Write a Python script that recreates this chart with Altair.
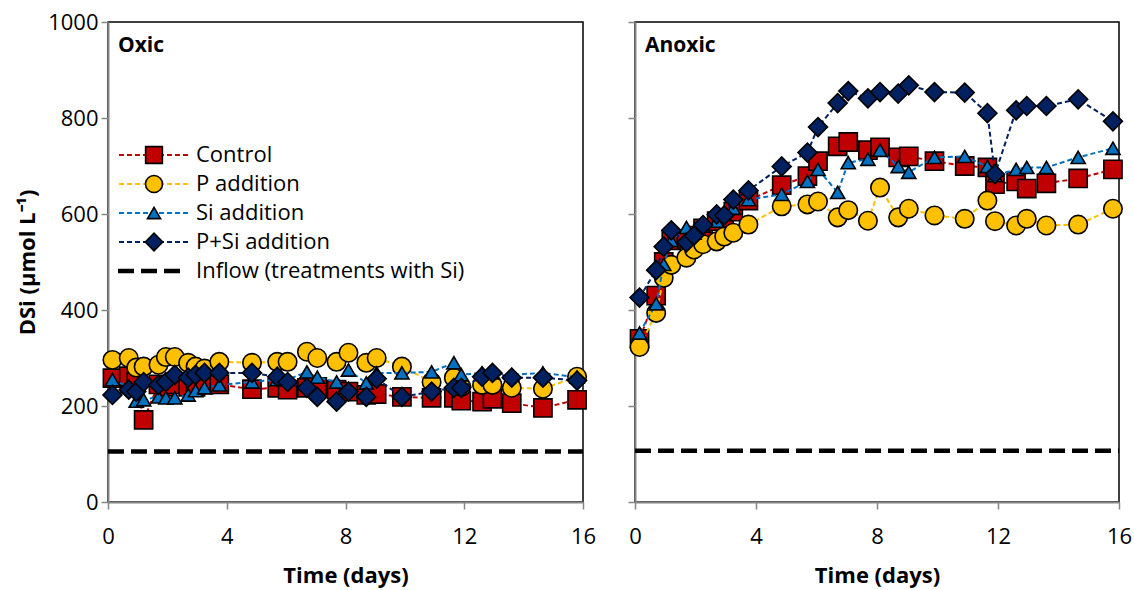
import altair as alt
import pandas as pd

# ---------------- data ----------------
days = [0.15, 0.7, 0.95, 1.2, 1.7, 1.95, 2.25, 2.7, 2.95, 3.25, 3.75, 4.85, 5.7, 6.05,
        6.7, 7.05, 7.7, 8.1, 8.7, 9.05, 9.9, 10.9, 11.65, 11.9, 12.6, 12.95, 13.6, 14.65, 15.8]

series_names = ["Control", "P addition", "Si addition", "P+Si addition"]
inflow_label = "Inflow (treatments with Si)"
panel_names = ["Oxic", "Anoxic"]

oxic_control = [258, 262, 250, 171, 245, 240, 245, 240, 240, 245, 245, 235, 238, 234,
                238, 240, 234, 230, 223, 225, 219, 217, 217, 211, 209, 215, 206, 196, 213]
oxic_p = [296, 300, 280, 282, 286, 302, 302, 290, 282, 278, 292, 290, 292, 292,
          313, 300, 292, 311, 290, 300, 282, 250, 259, 240, 244, 244, 238, 236, 261]
oxic_si = [255, 240, 210, 213, 219, 217, 217, 223, 232, 238, 244, 250, 255, 255,
           271, 260, 250, 275, 248, 269, 269, 271, 290, 265, 269, 269, 265, 269, 260]
oxic_psi = [223, 234, 230, 250, 244, 250, 265, 259, 265, 269, 269, 269, 261, 250,
            238, 219, 209, 230, 219, 257, 219, 230, 238, 238, 261, 269, 259, 259, 253]

anoxic_control = [340, 430, 500, 545, 548, 555, 570, 585, 592, 605, 628, 660, 679, 710,
                  741, 750, 733, 739, 718, 720, 710, 700, 697, 662, 668, 653, 664, 674, 693]
anoxic_p = [323, 394, 467, 494, 509, 526, 537, 543, 553, 561, 578, 616, 620, 626,
            593, 608, 586, 655, 593, 611, 597, 590, 628, 585, 576, 590, 576, 578, 611]
anoxic_si = [352, 413, 495, 545, 572, 560, 575, 585, 600, 612, 630, 641, 668, 693,
             645, 707, 714, 733, 699, 687, 718, 720, 699, 680, 693, 697, 697, 718, 737]
anoxic_psi = [426, 483, 532, 566, 541, 555, 577, 599, 597, 630, 649, 699, 728, 781,
              831, 856, 841, 854, 851, 868, 854, 853, 810, 683, 816, 825, 825, 839, 793]

inflow_days = [0, 16]
inflow_oxic = [105, 105]
inflow_anoxic = [107, 107]

# ---------------- styles ----------------
FONT = "Open Sans"
colors = {"Control": "#C00000", "P addition": "#FFC000",
          "Si addition": "#0070C0", "P+Si addition": "#002060"}
shapes = {"Control": "square", "P addition": "circle",
          "Si addition": "triangle-up", "P+Si addition": "diamond"}
sizes = {"Control": 330, "P addition": 340, "Si addition": 200, "P+Si addition": 360}
AXIS_GRAY = "#868686"


def build_df(values_by_series):
    rows = []
    for name, vals in zip(series_names, values_by_series):
        for d, v in zip(days, vals):
            rows.append({"series": name, "day": d, "value": v})
    return pd.DataFrame(rows)


def panel(values_by_series, inflow_vals, title, first, width):
    df = build_df(values_by_series)
    x = alt.X("day:Q", scale=alt.Scale(domain=[0, 16], nice=False),
              axis=alt.Axis(values=[0, 4, 8, 12, 16], format="d", title="Time (days)"))
    if first:
        y = alt.Y("value:Q", scale=alt.Scale(domain=[0, 1000], nice=False),
                  axis=alt.Axis(values=[0, 200, 400, 600, 800, 1000], format="d",
                                title="DSi (µmol L⁻¹)"))
    else:
        y = alt.Y("value:Q", scale=alt.Scale(domain=[0, 1000], nice=False),
                  axis=alt.Axis(values=[0, 200, 400, 600, 800, 1000],
                                labels=False, title=None))

    inflow_df = pd.DataFrame({"day": inflow_days, "value": inflow_vals})
    layers = [
        alt.Chart(inflow_df).mark_line(color="black", strokeWidth=4.5,
                                       strokeDash=[16, 7]).encode(x=x, y=y)
    ]
    for name in series_names:
        sdf = df[df["series"] == name]
        layers.append(
            alt.Chart(sdf).mark_line(color=colors[name], strokeWidth=2,
                                     strokeDash=[5, 3]).encode(x=x, y=y)
        )
        layers.append(
            alt.Chart(sdf).mark_point(shape=shapes[name], filled=True,
                                      fill=colors[name], stroke="black",
                                      strokeWidth=1.6, opacity=1,
                                      size=sizes[name]).encode(x=x, y=y)
        )

    layers.append(
        alt.Chart(pd.DataFrame({"t": [title]})).mark_text(
            align="left", baseline="middle", fontWeight="bold", fontSize=21,
            font=FONT, color="black"
        ).encode(x=alt.value(10), y=alt.value(24), text="t:N")
    )

    if first:
        for i, name in enumerate(series_names):
            ly = 133 + 29 * i
            one = pd.DataFrame({"label": [name]})
            layers.append(
                alt.Chart(one).mark_rule(color=colors[name], strokeWidth=2,
                                         strokeDash=[5, 3]).encode(
                    x=alt.value(11), x2=alt.value(80), y=alt.value(ly))
            )
            layers.append(
                alt.Chart(one).mark_point(shape=shapes[name], filled=True,
                                          fill=colors[name], stroke="black",
                                          strokeWidth=1.6, opacity=1,
                                          size=sizes[name] * 0.85).encode(
                    x=alt.value(46), y=alt.value(ly))
            )
            layers.append(
                alt.Chart(one).mark_text(align="left", baseline="middle",
                                         fontSize=22, font=FONT, color="black").encode(
                    x=alt.value(88), y=alt.value(ly), text="label:N")
            )
        ly = 133 + 29 * 4
        one = pd.DataFrame({"label": [inflow_label]})
        layers.append(
            alt.Chart(one).mark_rule(color="black", strokeWidth=4.5,
                                     strokeDash=[16, 7]).encode(
                x=alt.value(10), x2=alt.value(72), y=alt.value(ly))
        )
        layers.append(
            alt.Chart(one).mark_text(align="left", baseline="middle",
                                     fontSize=22, font=FONT, color="black").encode(
                x=alt.value(88), y=alt.value(ly), text="label:N")
        )

    return alt.layer(*layers).properties(width=width, height=480)


left = panel([oxic_control, oxic_p, oxic_si, oxic_psi], inflow_oxic,
             panel_names[0], True, 475)
right = panel([anoxic_control, anoxic_p, anoxic_si, anoxic_psi], inflow_anoxic,
              panel_names[1], False, 484)

chart = alt.hconcat(left, right, spacing=52, bounds="flush").properties(
    padding={"left": 15, "top": 10, "right": 0, "bottom": 2},
    background="white",
).configure_view(
    stroke="black", strokeWidth=1.5
).configure_axis(
    domainColor=AXIS_GRAY, domainWidth=2, tickColor=AXIS_GRAY, tickWidth=1.5,
    tickSize=7, grid=False, labelFont=FONT, labelFontSize=22, labelColor="black",
    labelFlush=False, labelOverlap=False,
    titleFont=FONT, titleFontSize=22, titleFontWeight="bold", titleColor="black",
)
chart = chart.configure_axisX(labelPadding=17, titlePadding=18)
chart = chart.configure_axisY(labelPadding=3, titlePadding=8)

chart.save("out.html", embed_options={"renderer": "svg", "actions": False})
